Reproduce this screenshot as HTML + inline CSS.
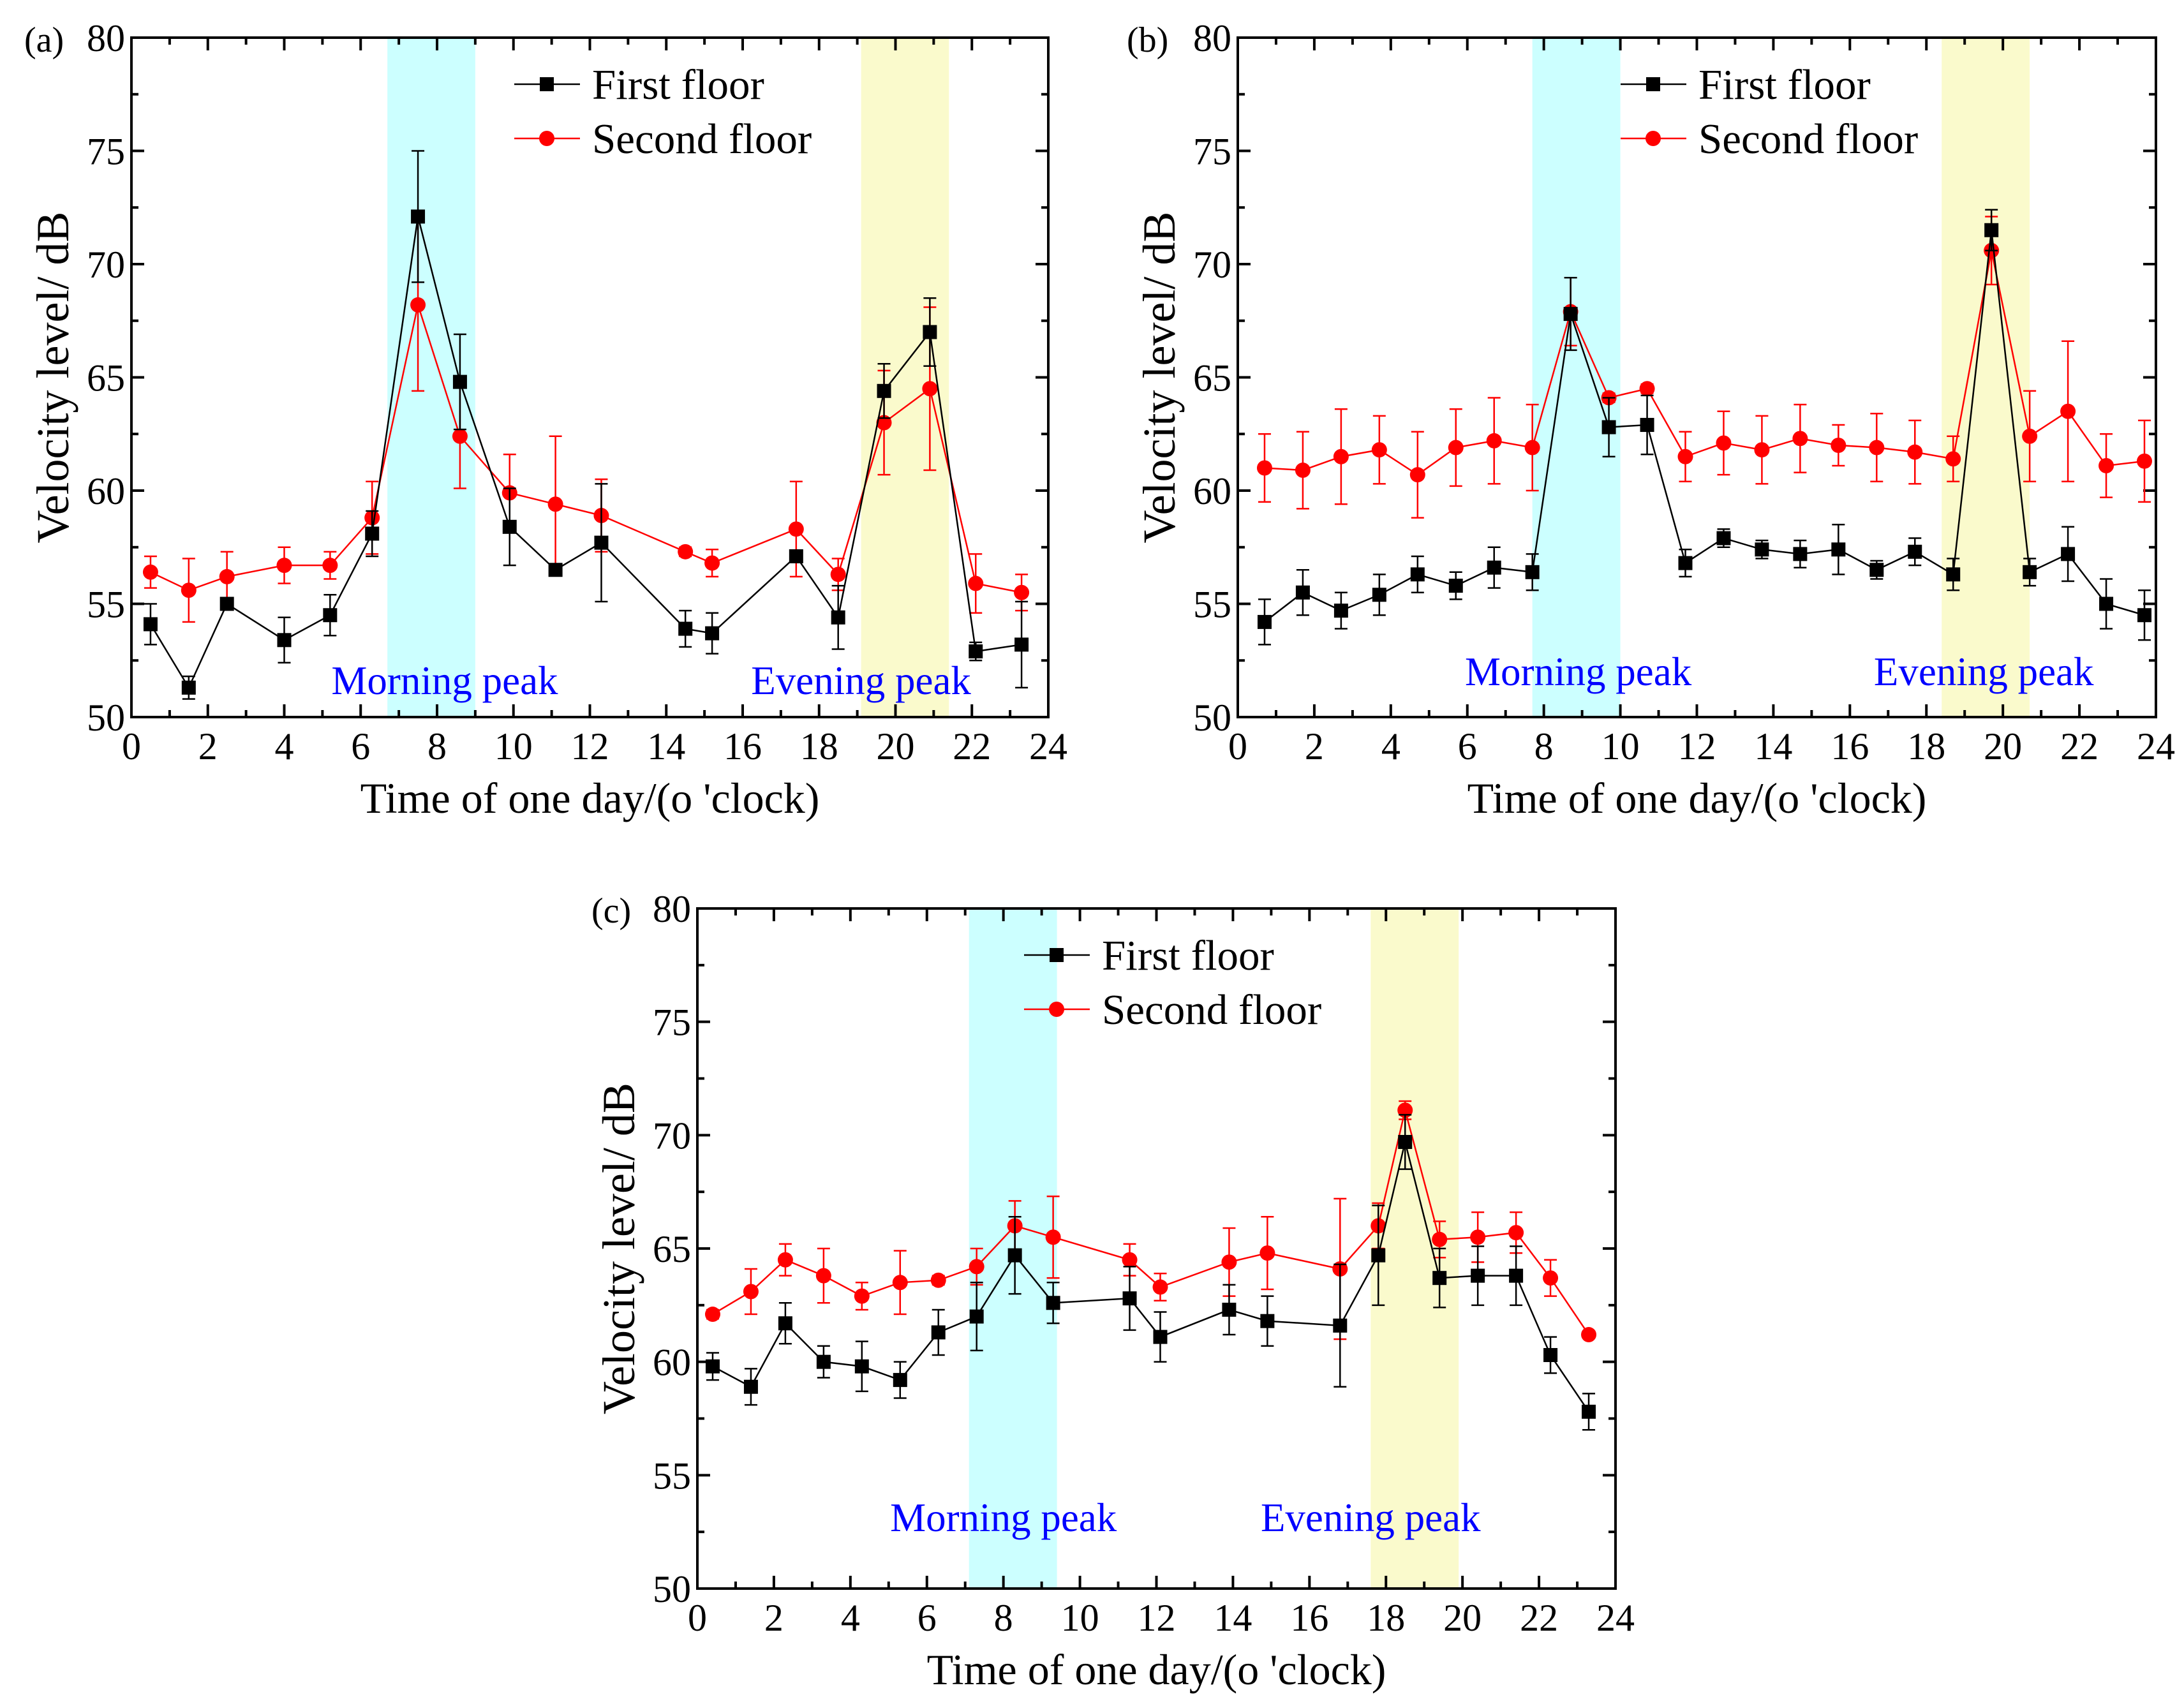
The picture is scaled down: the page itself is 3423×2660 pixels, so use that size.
<!DOCTYPE html>
<html><head><meta charset="utf-8"><style>
html,body{margin:0;padding:0;background:#fff}
svg{display:block;font-family:"Liberation Serif",serif}
</style></head><body>
<svg id="fig" width="3423" height="2660" viewBox="0 0 3423 2660" xmlns="http://www.w3.org/2000/svg"></svg>
<script>
const xTicks=[0,2,4,6,8,10,12,14,16,18,20,22,24];
const yTicks=[50,55,60,65,70,75,80];
// panel a
const aX=[0.5,1.5,2.5,4.0,5.2,6.3,7.5,8.6,9.9,11.1,12.3,14.5,15.2,17.4,18.5,19.7,20.9,22.1,23.3];
const aFirst=[54.1,51.3,55.0,53.4,54.5,58.1,72.1,64.8,58.4,56.5,57.7,53.9,53.7,57.1,54.4,64.4,67.0,52.9,53.2];
const aFirstErr=[0.9,0.5,0.2,1.0,0.9,1.0,2.9,2.1,1.7,0.2,2.6,0.8,0.9,0.2,1.4,1.2,1.5,0.4,1.9];
const aSecond=[56.4,55.6,56.2,56.7,56.7,58.8,68.2,62.4,59.9,59.4,58.9,57.3,56.8,58.3,56.3,63.0,64.5,55.9,55.5];
const aSecondErr=[0.7,1.4,1.1,0.8,0.6,1.6,3.8,2.3,1.7,3.0,1.6,0.2,0.6,2.1,0.7,2.3,3.6,1.3,0.8];
const aPeaks=[6.7,9.0,19.1,21.4];
// panel b
const bX=[0.7,1.7,2.7,3.7,4.7,5.7,6.7,7.7,8.7,9.7,10.7,11.7,12.7,13.7,14.7,15.7,16.7,17.7,18.7,19.7,20.7,21.7,22.7,23.7];
const bFirst=[54.2,55.5,54.7,55.4,56.3,55.8,56.6,56.4,67.8,62.8,62.9,56.8,57.9,57.4,57.2,57.4,56.5,57.3,56.3,71.5,56.4,57.2,55.0,54.5];
const bFirstErr=[1.0,1.0,0.8,0.9,0.8,0.6,0.9,0.8,1.6,1.3,1.3,0.6,0.4,0.4,0.6,1.1,0.4,0.6,0.7,0.9,0.6,1.2,1.1,1.1];
const bSecond=[61.0,60.9,61.5,61.8,60.7,61.9,62.2,61.9,67.9,64.1,64.5,61.5,62.1,61.8,62.3,62.0,61.9,61.7,61.4,70.6,62.4,63.5,61.1,61.3];
const bSecondErr=[1.5,1.7,2.1,1.5,1.9,1.7,1.9,1.9,1.5,0.2,0.2,1.1,1.4,1.5,1.5,0.9,1.5,1.4,1.0,1.5,2.0,3.1,1.4,1.8];
const bPeaks=[7.7,10.0,18.4,20.7];
// panel c
const cX=[0.4,1.4,2.3,3.3,4.3,5.3,6.3,7.3,8.3,9.3,11.3,12.1,13.9,14.9,16.8,17.8,18.5,19.4,20.4,21.4,22.3,23.3];
const cFirst=[59.8,58.9,61.7,60.0,59.8,59.2,61.3,62.0,64.7,62.6,62.8,61.1,62.3,61.8,61.6,64.7,69.7,63.7,63.8,63.8,60.3,57.8];
const cFirstErr=[0.6,0.8,0.9,0.7,1.1,0.8,1.0,1.5,1.7,0.9,1.4,1.1,1.1,1.1,2.7,2.2,1.2,1.3,1.3,1.3,0.8,0.8];
const cSecond=[62.1,63.1,64.5,63.8,62.9,63.5,63.6,64.2,66.0,65.5,64.5,63.3,64.4,64.8,64.1,66.0,71.1,65.4,65.5,65.7,63.7,61.2];
const cSecondErr=[0.2,1.0,0.7,1.2,0.6,1.4,0.2,0.8,1.1,1.8,0.7,0.6,1.5,1.6,3.1,1.0,0.4,0.8,1.1,0.9,0.8,0.1];
const cPeaks=[7.1,9.4,17.6,19.9];

const NS="http://www.w3.org/2000/svg";
const svg=document.getElementById('fig');
function mk(tag,attrs,parent){const e=document.createElementNS(NS,tag);for(const k in attrs)e.setAttribute(k,attrs[k]);(parent||svg).appendChild(e);return e;}

function panel(cfg){
  const g=mk('g',{});
  
  
  const L=cfg.L,R=cfg.R,T=cfg.T,B=cfg.B;
  const sx=v=>L+(v-0)/24*(R-L);
  const sy=v=>B-(v-50)/30*(B-T);
  const m=mk('rect',{x:sx(cfg.peaks[0]),y:T,width:sx(cfg.peaks[1])-sx(cfg.peaks[0]),height:B-T,fill:'#ccffff'},g);
  
  
  const e=mk('rect',{x:sx(cfg.peaks[2]),y:T,width:sx(cfg.peaks[3])-sx(cfg.peaks[2]),height:B-T,fill:'#fafacc'},g);
  
  
  for(let h=0;h<=24;h++){
    const len=h%2===0?20:11;const x=sx(h);
    mk('line',{x1:x,y1:B,x2:x,y2:B-len,stroke:'#000','stroke-width':4},g);
    mk('line',{x1:x,y1:T,x2:x,y2:T+len,stroke:'#000','stroke-width':4},g);
  }
  for(let v=50;v<=80;v+=2.5){
    const len=(v%5===0)?20:11;const y=sy(v);
    mk('line',{x1:L,y1:y,x2:L+len,y2:y,stroke:'#000','stroke-width':4},g);
    mk('line',{x1:R,y1:y,x2:R-len,y2:y,stroke:'#000','stroke-width':4},g);
  }
  xTicks.forEach(t=>{const tx=mk('text',{x:sx(t),y:B+66,'font-size':60,'text-anchor':'middle'},g);tx.textContent=t;
    
    });
  yTicks.forEach(t=>{const tx=mk('text',{x:L-10,y:sy(t)+21,'font-size':60,'text-anchor':'end'},g);tx.textContent=t;
    
    });
  const xt=mk('text',{x:(L+R)/2,y:B+150,'font-size':68,'text-anchor':'middle'},g);xt.textContent="Time of one day/(o 'clock)";
  
  
  const yt=mk('text',{x:0,y:0,'font-size':72,'text-anchor':'middle',transform:`translate(${L-99},${(T+B)/2}) rotate(-90)`},g);yt.textContent="Velocity level/ dB";
  
  
  const pl=mk('text',{x:cfg.labX,y:T+22,'font-size':56},g);pl.textContent='('+cfg.id+')';
  
  
  const ml=mk('text',{x:sx(cfg.mLab),y:cfg.labY,'font-size':63,'text-anchor':'middle',fill:'#0000ff'},g);ml.textContent='Morning peak';
  
  
  const el=mk('text',{x:sx(cfg.eLab),y:cfg.labY,'font-size':63,'text-anchor':'middle',fill:'#0000ff'},g);el.textContent='Evening peak';
  
  
  function series(xs,ys,errs,color,shape,name){
    const sg=mk('g',{},g);
    
    
    xs.forEach((x,i)=>{
      const X=sx(x),y1=sy(ys[i]-errs[i]),y2=sy(ys[i]+errs[i]);
      mk('line',{x1:X,y1:y1,x2:X,y2:y2,stroke:color,'stroke-width':2.5},sg);
      mk('line',{x1:X-10,y1:y1,x2:X+10,y2:y1,stroke:color,'stroke-width':2.5},sg);
      mk('line',{x1:X-10,y1:y2,x2:X+10,y2:y2,stroke:color,'stroke-width':2.5},sg);
    });
    mk('polyline',{points:xs.map((x,i)=>sx(x)+','+sy(ys[i])).join(' '),fill:'none',stroke:color,'stroke-width':2.5},sg);
    xs.forEach((x,i)=>{
      let p;
      if(shape==='sq')p=mk('rect',{x:sx(x)-11,y:sy(ys[i])-11,width:22,height:22,fill:color},sg);
      else p=mk('circle',{cx:sx(x),cy:sy(ys[i]),r:12,fill:color},sg);
      
      
    });
  }
  series(cfg.x,cfg.second,cfg.secondErr,'#ff0000','ci','second-floor');
  series(cfg.x,cfg.first,cfg.firstErr,'#000000','sq','first-floor');
  mk('rect',{x:L,y:T,width:R-L,height:B-T,fill:'none',stroke:'#000','stroke-width':4},g);
  const lg=mk('g',{},g);
  
  
  const lx=cfg.legX,ly=cfg.legY;
  [['First floor','#000','sq'],['Second floor','#ff0000','ci']].forEach((it,k)=>{
    const y=ly+k*85;
    const eg=mk('g',{},lg);
    
    
    mk('line',{x1:lx,y1:y,x2:lx+103,y2:y,stroke:it[1],'stroke-width':2.5},eg);
    if(it[2]==='sq')mk('rect',{x:lx+40,y:y-11,width:22,height:22,fill:it[1]},eg);
    else mk('circle',{cx:lx+51,cy:y,r:12,fill:it[1]},eg);
    const t=mk('text',{x:lx+122,y:y+23,'font-size':67},eg);t.textContent=it[0];
  });
}
panel({id:'a',L:206,R:1643,T:59,B:1124,x:aX,first:aFirst,firstErr:aFirstErr,second:aSecond,secondErr:aSecondErr,peaks:aPeaks,labX:38,mLab:8.2,eLab:19.1,labY:1088,legX:806,legY:132});
panel({id:'b',L:1940,R:3379,T:59,B:1124,x:bX,first:bFirst,firstErr:bFirstErr,second:bSecond,secondErr:bSecondErr,peaks:bPeaks,labX:1766,mLab:8.9,eLab:19.5,labY:1074,legX:2540,legY:132});
panel({id:'c',L:1093,R:2532,T:1424,B:2490,x:cX,first:cFirst,firstErr:cFirstErr,second:cSecond,secondErr:cSecondErr,peaks:cPeaks,labX:927,mLab:8.0,eLab:17.6,labY:2400,legX:1605,legY:1497});
</script>
</body></html>
